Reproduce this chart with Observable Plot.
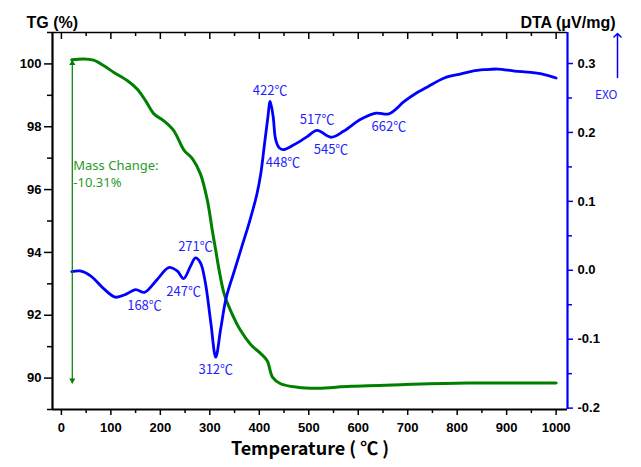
<!DOCTYPE html>
<html><head><meta charset="utf-8">
<script src="https://cdn.jsdelivr.net/npm/d3@7"></script>
<script src="https://cdn.jsdelivr.net/npm/@observablehq/plot@0.6"></script>
<style>body{margin:0;background:#fff} #chart svg{display:block}</style>
</head><body><div id="chart"></div>
<script>
// ---- data ----
const tgTemp  = [21, 45, 65, 86, 106, 133, 153, 170, 187, 207, 227, 248, 265, 281, 295, 305, 312, 319, 329, 342, 362, 383, 403, 416, 427, 443, 477, 518, 585, 686, 821, 1000];
const tgValue = [100.13, 100.16, 100.12, 99.94, 99.73, 99.47, 99.20, 98.83, 98.41, 98.19, 97.88, 97.25, 96.98, 96.50, 95.66, 94.70, 94.06, 93.42, 92.68, 92.15, 91.52, 91.06, 90.78, 90.55, 90.02, 89.82, 89.71, 89.68, 89.74, 89.79, 89.84, 89.84];

const dtaTemp  = [21, 38, 59, 86, 109, 130, 150, 168, 194, 217, 234, 247, 261, 271, 281, 291, 302, 312, 322, 333, 350, 365, 380, 395, 403, 410, 417, 422, 428, 433, 440, 448, 470, 497, 517, 545, 571, 605, 636, 662, 693, 713, 740, 774, 808, 831, 855, 882, 916, 949, 976, 1000];
const dtaValue = [-0.002, -0.001, -0.008, -0.027, -0.039, -0.035, -0.028, -0.032, -0.013, 0.004, -0.001, -0.012, 0.006, 0.018, 0.011, -0.018, -0.076, -0.126, -0.085, -0.040, 0.000, 0.035, 0.070, 0.110, 0.140, 0.180, 0.220, 0.245, 0.223, 0.190, 0.178, 0.175, 0.182, 0.194, 0.203, 0.193, 0.202, 0.219, 0.228, 0.227, 0.245, 0.255, 0.266, 0.279, 0.285, 0.289, 0.291, 0.292, 0.289, 0.287, 0.284, 0.279];

const peakTemps = [168, 247, 271, 312, 422, 448, 517, 545, 662];
const peakDTA   = [-0.032, -0.012, 0.018, -0.126, 0.245, 0.175, 0.203, 0.193, 0.227];
const peakKind  = ["min", "min", "max", "min", "max", "min", "max", "min", "min"];

const xTicks   = [0, 100, 200, 300, 400, 500, 600, 700, 800, 900, 1000];
const xMinor   = [50, 150, 250, 350, 450, 550, 650, 750, 850, 950];
const tgTicks  = [90, 92, 94, 96, 98, 100];
const tgMinor  = [89, 91, 93, 95, 97, 99, 101];
const dtaTicks = [-0.2, -0.1, 0.0, 0.1, 0.2, 0.3];
const dtaMinor = [-0.15, -0.05, 0.05, 0.15, 0.25];

const xDomain = [-18, 1023];
const tgDomain = [89, 101];
const dtaDomain = [-0.202, 0.345];

const massTemp = 22, massStart = 100.13, massChange = -10.31;
const massLabel = ["Mass Change:", `${massChange.toFixed(2)}%`];

// ---- helpers ----
const toTG = d => tgDomain[0] + (d - dtaDomain[0]) * (tgDomain[1] - tgDomain[0]) / (dtaDomain[1] - dtaDomain[0]);
const fromTG = v => dtaDomain[0] + (v - tgDomain[0]) * (dtaDomain[1] - dtaDomain[0]) / (tgDomain[1] - tgDomain[0]);

const tg = tgTemp.map((t, i) => ({t, v: tgValue[i]}));
const dta = dtaTemp.map((t, i) => ({t, v: toTG(dtaValue[i])}));
const peaks = peakTemps.map((t, i) => ({t, v: toTG(peakDTA[i]), kind: peakKind[i], label: `${t}℃`}));

const W = 641, H = 467, ML = 52, MR = 74, MT = 32, MB = 58;
const frameH = H - MT - MB;
const pxToTG = px => px * (tgDomain[1] - tgDomain[0]) / frameH;

const GREEN = "#008000", BLUE = "#0000ff", LABELBLUE = "#1f1fff", TEXTGREEN = "#2a9a2a";
const cjk = "'Noto Sans CJK KR', 'Noto Sans', sans-serif";
const tickFont = "'Liberation Sans', Arial, sans-serif";

const plot = Plot.plot({
  width: W, height: H,
  marginLeft: ML, marginRight: MR, marginTop: MT, marginBottom: MB,
  x: {domain: xDomain, label: null},
  y: {domain: tgDomain, label: null},
  style: {fontFamily: tickFont, background: "white", overflow: "visible"},
  marks: [
    // curves
    Plot.line(tg, {x: "t", y: "v", stroke: GREEN, strokeWidth: 3, curve: "catmull-rom"}),
    Plot.line(dta, {x: "t", y: "v", stroke: BLUE, strokeWidth: 2.8, curve: "catmull-rom"}),

    // mass change arrow
    Plot.ruleX([massTemp], {x: d => d, y1: massStart, y2: massStart + massChange, stroke: GREEN, strokeWidth: 1.2}),
    Plot.dot([massStart], {x: massTemp, y: d => d, symbol: "triangle", r: 2.3, fill: GREEN, stroke: "none", dy: 3.5}),
    Plot.dot([massStart + massChange], {x: massTemp, y: d => d, symbol: "triangle", r: 2.3, rotate: 180, fill: GREEN, stroke: "none", dy: -3.5}),
    Plot.text([massLabel[0]], {x: massTemp, y: 96.5, text: d => d, textAnchor: "start", dx: 1, dy: -8.5, fill: TEXTGREEN, fontSize: 13, fontFamily: "'Noto Sans', sans-serif"}),
    Plot.text([massLabel[1]], {x: massTemp, y: 96.5, text: d => d, textAnchor: "start", dx: 1, dy: 8.5, fill: TEXTGREEN, fontSize: 13, fontFamily: "'Noto Sans', sans-serif"}),

    // peak labels
    Plot.text(peaks.filter(d => d.kind === "max"), {x: "t", y: "v", text: "label", dy: -11, fill: LABELBLUE, fontSize: 13, fontFamily: cjk}),
    Plot.text(peaks.filter(d => d.kind === "min"), {x: "t", y: "v", text: "label", dy: 13, fill: LABELBLUE, fontSize: 13, fontFamily: cjk}),

    // frame lines
    Plot.ruleY([tgDomain[1]], {stroke: "black", strokeWidth: 1.5}),
    Plot.ruleY([tgDomain[0]], {stroke: "black", strokeWidth: 2.2}),
    Plot.ruleX([xDomain[0]], {stroke: "black", strokeWidth: 2.2}),
    Plot.ruleX([xDomain[1]], {stroke: BLUE, strokeWidth: 2.2}),

    // bottom axis
    Plot.axisX(xTicks, {anchor: "bottom", tickSize: 6, tickPadding: 7, fontSize: 13, fontWeight: "bold", label: null, strokeWidth: 1.5, tickFormat: d => String(d)}),
    Plot.axisX(xMinor, {anchor: "bottom", tickSize: 4, fill: "none", label: null, strokeWidth: 1.5}),
    // top axis (ticks pointing inward)
    Plot.ruleX(xTicks, {x: d => d, y1: tgDomain[1], y2: tgDomain[1] - pxToTG(7), stroke: "black", strokeWidth: 1.5}),
    Plot.ruleX(xMinor, {x: d => d, y1: tgDomain[1], y2: tgDomain[1] - pxToTG(4), stroke: "black", strokeWidth: 1.5}),
    // left axis
    Plot.axisY(tgTicks, {anchor: "left", tickSize: 8, tickPadding: 3, fontSize: 13, fontWeight: "bold", label: null, strokeWidth: 1.5, tickFormat: d => String(d)}),
    Plot.axisY(tgMinor, {anchor: "left", tickSize: 5, fill: "none", label: null, strokeWidth: 1.5}),
    // right axis (DTA)
    Plot.axisY(dtaTicks.map(toTG), {anchor: "right", tickSize: 5, tickPadding: 5, stroke: BLUE, fill: "black", fontSize: 13, fontWeight: "bold", label: null, strokeWidth: 1.5,
      tickFormat: v => (Math.round(fromTG(v) * 10) / 10).toFixed(1)}),
    Plot.axisY(dtaMinor.map(toTG), {anchor: "right", tickSize: 4, fill: "none", stroke: BLUE, label: null, strokeWidth: 1.5}),

    // titles
    Plot.text(["TG (%)"], {frameAnchor: "top-left", dx: -26, dy: -16, textAnchor: "start", fontWeight: "bold", fontSize: 16}),
    Plot.text(["DTA (μV/mg)"], {frameAnchor: "top-right", dx: 48, dy: -16, textAnchor: "end", fontWeight: "bold", fontSize: 16}),
    Plot.text(["Temperature ( ℃ )"], {frameAnchor: "bottom", dy: 45, fontWeight: "bold", fontSize: 18, fontFamily: cjk}),

    // EXO arrow
    Plot.vector([0], {frameAnchor: "top-right", dx: 50, dy: 45, length: 44, anchor: "start", rotate: 0, r: 1.4, stroke: BLUE, strokeWidth: 1.5}),
    Plot.text(["EXO"], {frameAnchor: "top-right", dx: 50, dy: 58, fill: LABELBLUE, fontSize: 12, fontFamily: cjk})
  ]
});
document.getElementById("chart").append(plot);
</script>
</body></html>
